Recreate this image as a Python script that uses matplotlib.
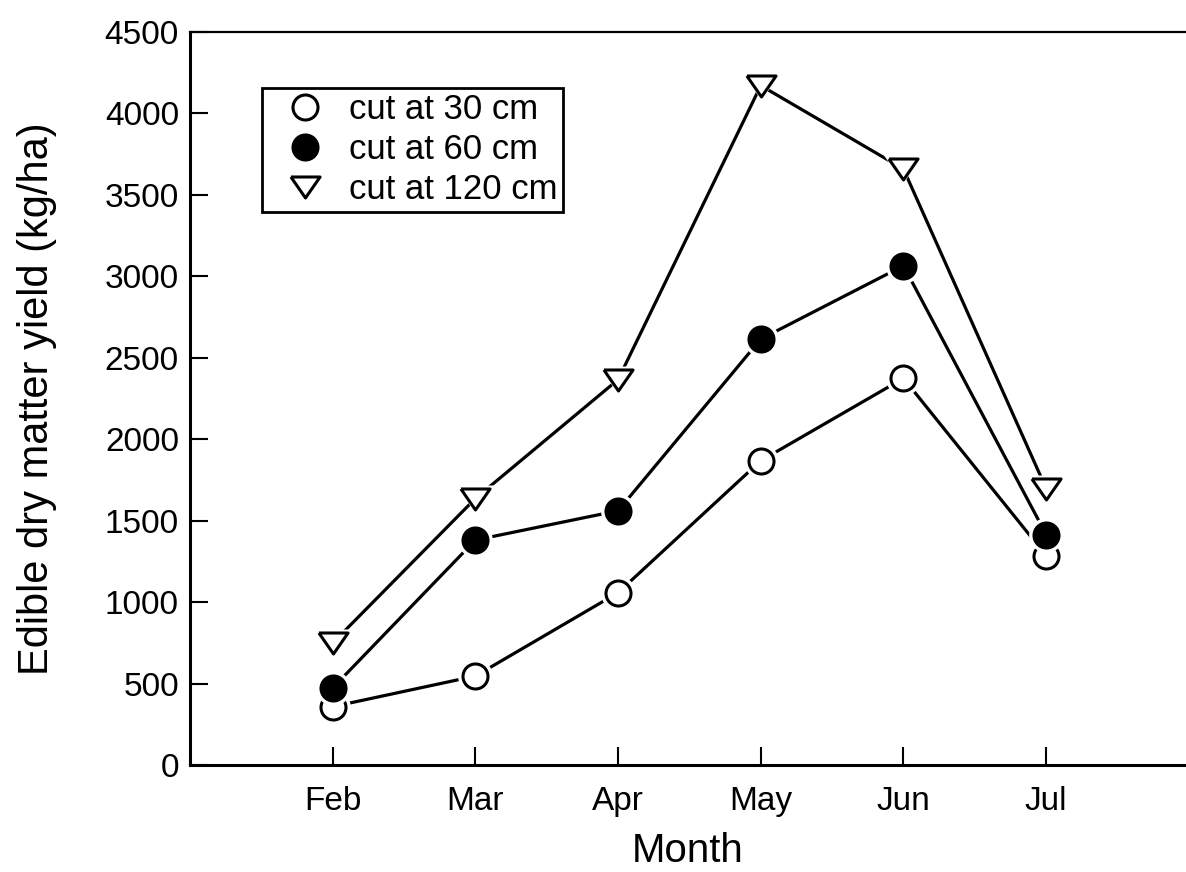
import numpy as np
import matplotlib
matplotlib.use("Agg")
import matplotlib.pyplot as plt

plt.rcParams['font.family'] = ['Liberation Sans', 'DejaVu Sans']

# edible dry matter yield (kg/ha) by harvest month and cutting height
months = ['Feb', 'Mar', 'Apr', 'May', 'Jun', 'Jul']
cut30 = [358, 546, 1058, 1868, 2374, 1285]
cut60 = [473, 1381, 1561, 2615, 3065, 1415]
cut120 = [749, 1636, 2366, 4171, 3659, 1697]

x = np.arange(1, len(months) + 1)

fig = plt.figure(figsize=(11.86, 8.72), dpi=100)
ax = fig.add_axes([190 / 1186, 107 / 872, 996 / 1186, 733 / 872])

# flattened downward triangle
tri = [(-1, 0.72), (1, 0.72), (0, -0.72), (-1, 0.72)]

series = [
    (cut30, 'o', 'white', 18, 'cut at 30 cm'),
    (cut60, 'o', 'black', 18, 'cut at 60 cm'),
    (cut120, tri, 'white', 21, 'cut at 120 cm'),
]

for i, (vals, mk, fc, ms, lab) in enumerate(series):
    z = 2 + 3 * i
    ax.plot(x, vals, color='black', lw=2.3, zorder=z)
    # white halo so the lines stop short of the symbols
    ax.plot(x, vals, ls='none', marker=mk, ms=ms + 7, mfc='white',
            mec='white', mew=0, zorder=z + 1)
    ax.plot(x, vals, ls='none', marker=mk, ms=ms, mfc=fc, mec='black',
            mew=2.2, zorder=z + 2, label=lab)

ax.set_xlim(0, 6.98)
ax.set_ylim(0, 4500)
ax.set_xticks(x)
ax.set_xticklabels(months)
ax.set_yticks(np.arange(0, 4501, 500))

ax.spines['right'].set_visible(False)
for s in ['left', 'bottom']:
    ax.spines[s].set_linewidth(2.2)
ax.spines['top'].set_linewidth(1.6)

ax.tick_params(direction='in', length=13, width=1.5, labelsize=24)
ax.tick_params(axis='x', pad=15)
ax.tick_params(axis='y', pad=8)

ax.set_xlabel('Month', fontsize=29, labelpad=11)
ax.set_ylabel('Edible dry matter yield (kg/ha)', fontsize=30, labelpad=34)

leg = ax.legend(loc='upper left', bbox_to_anchor=(0.072, 0.924),
                borderaxespad=0, fontsize=25, numpoints=1, fancybox=False,
                framealpha=1, edgecolor='black', labelspacing=0.21,
                handletextpad=0.17, handlelength=2.2, borderpad=0.15)
leg.get_frame().set_linewidth(2)

fig.savefig('out.png', dpi=100)
